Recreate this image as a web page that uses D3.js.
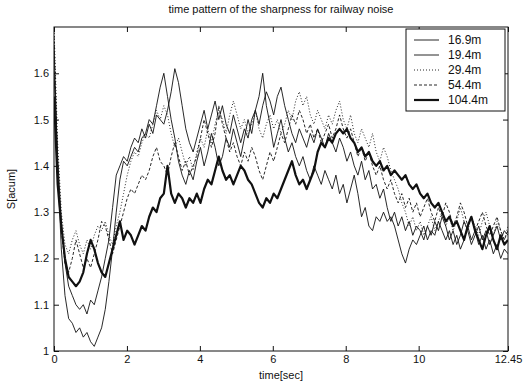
<!DOCTYPE html>
<html>
<head>
<meta charset="utf-8">
<script src="https://cdn.jsdelivr.net/npm/d3@7"></script>
<style>
  body { margin: 0; background: #fff; }
  svg text { font-family: "Liberation Sans", Arial, sans-serif; fill: #111; }
</style>
</head>
<body>
<div id="chart"></div>
<script>
// sharpness time pattern (~0.1 s steps, 0 .. 12.45 s)
const seriesNames = ["16.9m", "19.4m", "29.4m", "54.4m", "104.4m"];
const xTicks = [0, 2, 4, 6, 8, 10, 12.45];
const yTicks = [1, 1.1, 1.2, 1.3, 1.4, 1.5, 1.6];

const s169 = [
  1.66, 1.40, 1.22, 1.12, 1.07, 1.06, 1.04, 1.05, 1.03, 1.04,
  1.02, 1.01, 1.03, 1.05, 1.09, 1.15, 1.22, 1.30, 1.37, 1.41,
  1.40, 1.42, 1.44, 1.43, 1.46, 1.47, 1.50, 1.49, 1.53, 1.57,
  1.60, 1.55, 1.50, 1.46, 1.41, 1.38, 1.36, 1.39, 1.37, 1.41,
  1.44, 1.40, 1.43, 1.47, 1.44, 1.40, 1.42, 1.46, 1.44, 1.48,
  1.45, 1.42, 1.46, 1.50, 1.47, 1.52, 1.55, 1.60, 1.53, 1.49,
  1.44, 1.47, 1.50, 1.46, 1.43, 1.45, 1.42, 1.40, 1.42, 1.39,
  1.37, 1.40, 1.38, 1.36, 1.39, 1.37, 1.35, 1.38, 1.34, 1.36,
  1.32, 1.35, 1.38, 1.34, 1.29, 1.31, 1.27, 1.26, 1.29, 1.28,
  1.30, 1.28, 1.29, 1.27, 1.24, 1.21, 1.19, 1.22, 1.24, 1.23,
  1.25, 1.27, 1.24, 1.26, 1.25, 1.28, 1.26, 1.24, 1.26, 1.23,
  1.25, 1.22, 1.24, 1.27, 1.24, 1.26, 1.23, 1.25, 1.22, 1.24,
  1.21, 1.23, 1.20, 1.22, 1.21
];
const s194 = [
  1.60, 1.42, 1.28, 1.19, 1.14, 1.12, 1.10, 1.09, 1.10, 1.08,
  1.11, 1.10, 1.13, 1.16, 1.20, 1.24, 1.31, 1.38, 1.40, 1.42,
  1.41, 1.44, 1.46, 1.45, 1.48, 1.46, 1.49, 1.47, 1.51, 1.50,
  1.49, 1.52, 1.56, 1.61, 1.58, 1.53, 1.48, 1.45, 1.43, 1.46,
  1.49, 1.52, 1.48, 1.51, 1.54, 1.50, 1.53, 1.49, 1.47, 1.51,
  1.48, 1.45, 1.48, 1.46, 1.50, 1.52, 1.49, 1.53, 1.56, 1.54,
  1.51, 1.55, 1.57, 1.53, 1.50, 1.47, 1.45, 1.48, 1.46, 1.44,
  1.47, 1.45, 1.48, 1.46, 1.44, 1.47, 1.45, 1.43, 1.46, 1.44,
  1.41, 1.43, 1.40, 1.38, 1.41, 1.37, 1.39, 1.35, 1.36, 1.33,
  1.35, 1.31, 1.28, 1.30, 1.27, 1.29, 1.26, 1.28, 1.25, 1.27,
  1.26, 1.24, 1.27, 1.25, 1.28, 1.26, 1.29, 1.27, 1.24, 1.26,
  1.23, 1.25, 1.28, 1.26, 1.23, 1.25, 1.27, 1.24, 1.26, 1.23,
  1.25, 1.27, 1.24, 1.26, 1.25
];
const s294 = [
  1.70, 1.45, 1.30, 1.23, 1.21, 1.24, 1.26, 1.23, 1.21, 1.24,
  1.22, 1.25, 1.27, 1.26, 1.28, 1.25, 1.23, 1.27, 1.30, 1.34,
  1.38, 1.41, 1.43, 1.42, 1.45, 1.47, 1.46, 1.49, 1.52, 1.50,
  1.53, 1.51, 1.47, 1.44, 1.46, 1.43, 1.40, 1.42, 1.39, 1.43,
  1.46, 1.44, 1.48, 1.45, 1.49, 1.52, 1.50, 1.47, 1.51, 1.54,
  1.51, 1.48, 1.50, 1.47, 1.49, 1.52, 1.48, 1.46, 1.49, 1.51,
  1.48, 1.50, 1.47, 1.49, 1.52, 1.50, 1.54, 1.56, 1.53, 1.55,
  1.51, 1.49, 1.52, 1.50, 1.48, 1.51, 1.49, 1.52, 1.54, 1.50,
  1.48, 1.51, 1.47, 1.45, 1.48, 1.46, 1.44, 1.47, 1.43, 1.41,
  1.44, 1.42, 1.39, 1.37, 1.35, 1.32, 1.30, 1.27, 1.29, 1.26,
  1.28, 1.25, 1.27, 1.29, 1.26, 1.28, 1.30, 1.27, 1.29, 1.26,
  1.28, 1.31, 1.28, 1.26, 1.29, 1.27, 1.25, 1.28, 1.30, 1.27,
  1.25, 1.28, 1.26, 1.24, 1.27
];
const s544 = [
  1.68, 1.40, 1.26, 1.19, 1.17, 1.20, 1.24, 1.21, 1.18, 1.20,
  1.18, 1.21, 1.24, 1.28, 1.27, 1.24, 1.21, 1.24, 1.27, 1.30,
  1.33, 1.35, 1.34, 1.36, 1.38, 1.37, 1.39, 1.42, 1.44, 1.41,
  1.40, 1.38, 1.42, 1.45, 1.42, 1.39, 1.41, 1.38, 1.40, 1.42,
  1.46, 1.50, 1.47, 1.44, 1.47, 1.53, 1.49, 1.46, 1.43, 1.45,
  1.42, 1.40, 1.43, 1.41, 1.44, 1.42, 1.39, 1.37, 1.40, 1.43,
  1.41, 1.44, 1.47, 1.45, 1.48, 1.51, 1.49, 1.52, 1.50, 1.47,
  1.49, 1.46, 1.48, 1.45, 1.47, 1.49, 1.46, 1.48, 1.51, 1.48,
  1.46, 1.48, 1.45, 1.42, 1.44, 1.41, 1.43, 1.40, 1.38, 1.40,
  1.37, 1.35, 1.37, 1.34, 1.32, 1.34, 1.31, 1.33, 1.30, 1.32,
  1.29, 1.31, 1.33, 1.30, 1.28, 1.31, 1.29, 1.32, 1.30, 1.27,
  1.29, 1.32, 1.30, 1.27, 1.29, 1.26, 1.28, 1.30, 1.27, 1.25,
  1.27, 1.29, 1.26, 1.24, 1.26
];
const s1044 = [
  1.55, 1.36, 1.27, 1.20, 1.16, 1.15, 1.14, 1.15, 1.17, 1.21,
  1.24, 1.22, 1.19, 1.17, 1.16, 1.19, 1.22, 1.25, 1.28, 1.24,
  1.26, 1.25, 1.23, 1.25, 1.27, 1.26, 1.29, 1.31, 1.30, 1.33,
  1.34, 1.40, 1.34, 1.32, 1.34, 1.33, 1.31, 1.33, 1.32, 1.34,
  1.32, 1.35, 1.37, 1.36, 1.39, 1.42, 1.39, 1.37, 1.38, 1.36,
  1.38, 1.40, 1.39, 1.37, 1.36, 1.34, 1.32, 1.31, 1.33, 1.32,
  1.34, 1.33, 1.35, 1.37, 1.39, 1.41, 1.38, 1.36, 1.37, 1.35,
  1.37, 1.39, 1.43, 1.45, 1.44, 1.46, 1.45, 1.47, 1.48, 1.47,
  1.48, 1.46, 1.45, 1.43, 1.44, 1.42, 1.43, 1.41, 1.40, 1.41,
  1.39, 1.40, 1.38, 1.39, 1.38, 1.37, 1.38, 1.36, 1.35, 1.36,
  1.34, 1.33, 1.34, 1.32, 1.31, 1.32, 1.30, 1.28, 1.29, 1.27,
  1.28, 1.26, 1.24, 1.27, 1.29, 1.26, 1.24, 1.22, 1.25, 1.27,
  1.24, 1.22, 1.25, 1.23, 1.24
];
const seriesValues = [s169, s194, s294, s544, s1044];
const tEnd = 12.45;

const W = 528, H = 389;
const margin = { top: 27, right: 20, bottom: 38, left: 54 };
const width = W - margin.left - margin.right;
const height = H - margin.top - margin.bottom;

const styles = [
  { w: 0.9, dash: null },
  { w: 0.9, dash: null },
  { w: 0.9, dash: "1,2" },
  { w: 0.9, dash: "3,2" },
  { w: 2.2, dash: null }
];

const svg = d3.select("#chart").append("svg")
  .attr("width", W).attr("height", H);

const g = svg.append("g").attr("transform", `translate(${margin.left},${margin.top})`);

const x = d3.scaleLinear().domain([0, tEnd]).range([0, width]);
const y = d3.scaleLinear().domain([1, 1.7]).range([height, 0]);

g.append("clipPath").attr("id", "plot-clip")
  .append("rect").attr("width", width).attr("height", height);

const line = d3.line()
  .x((d, i, arr) => x(i * tEnd / (arr.length - 1)))
  .y(d => y(d));

const lines = g.append("g").attr("clip-path", "url(#plot-clip)");
seriesValues.forEach((vals, k) => {
  lines.append("path")
    .datum(vals)
    .attr("fill", "none")
    .attr("stroke", "#111")
    .attr("stroke-width", styles[k].w)
    .attr("stroke-dasharray", styles[k].dash)
    .attr("stroke-linejoin", "round")
    .attr("d", line);
});

// axes, MATLAB-style inward ticks on all four sides
const fmt = d => d3.format("")(d);
const axisStyle = sel => {
  sel.select(".domain").remove();
  sel.selectAll(".tick line").attr("stroke", "#111");
  sel.selectAll(".tick text").attr("font-size", 11);
};
g.append("g").attr("transform", `translate(0,${height})`)
  .call(d3.axisBottom(x).tickValues(xTicks).tickFormat(fmt).tickSizeInner(-5).tickPadding(4))
  .call(axisStyle);
g.append("g")
  .call(d3.axisTop(x).tickValues(xTicks).tickFormat("").tickSizeInner(-5))
  .call(axisStyle);
g.append("g")
  .call(d3.axisLeft(y).tickValues(yTicks).tickFormat(fmt).tickSizeInner(-5).tickPadding(5))
  .call(axisStyle);
g.append("g").attr("transform", `translate(${width},0)`)
  .call(d3.axisRight(y).tickValues(yTicks).tickFormat("").tickSizeInner(-5))
  .call(axisStyle);

g.append("rect")
  .attr("width", width).attr("height", height)
  .attr("fill", "none").attr("stroke", "#111").attr("stroke-width", 1);

// labels
svg.append("text")
  .attr("x", margin.left + width / 2).attr("y", 13)
  .attr("text-anchor", "middle").attr("font-size", 11)
  .text("time pattern of the sharpness for railway noise");
svg.append("text")
  .attr("x", margin.left + width / 2).attr("y", H - 10)
  .attr("text-anchor", "middle").attr("font-size", 11)
  .text("time[sec]");
svg.append("text")
  .attr("transform", `translate(15,${margin.top + height / 2}) rotate(-90)`)
  .attr("text-anchor", "middle").attr("font-size", 11)
  .text("S[acum]");

// legend
const lg = g.append("g").attr("transform", `translate(${width - 102},2)`);
lg.append("rect")
  .attr("width", 99).attr("height", 82)
  .attr("fill", "#fff").attr("stroke", "#111").attr("stroke-width", 1);
seriesNames.forEach((name, k) => {
  const yy = 11 + k * 15;
  lg.append("line")
    .attr("x1", 8).attr("x2", 33).attr("y1", yy).attr("y2", yy)
    .attr("stroke", "#111")
    .attr("stroke-width", styles[k].w)
    .attr("stroke-dasharray", styles[k].dash);
  lg.append("text")
    .attr("x", 42).attr("y", yy + 4)
    .attr("font-size", 12)
    .text(name);
});
</script>
</body>
</html>
